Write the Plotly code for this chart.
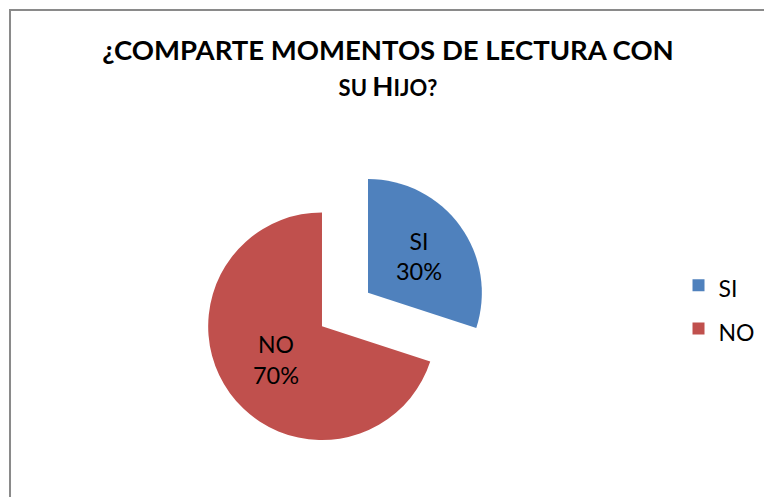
import plotly.graph_objects as go

# data
labels = ["SI", "NO"]
values = [30, 70]
colors = ["#4F81BD", "#C0504D"]
pulls = [0.5, 0]

title_text = ("¿COMPARTE MOMENTOS DE LECTURA CON<br>"
              "<span style='font-size:22px'>SU </span>H"
              "<span style='font-size:22px'>IJO?</span>")

# label text kept at 23px while the legend font is larger (gives taller legend rows)
label_text = [f"<span style='font-size:23px'>{lab}</span>" for lab in labels]

fig = go.Figure()

fig.add_trace(go.Pie(
    labels=label_text,
    values=values,
    marker=dict(colors=colors),
    pull=pulls,
    sort=False,
    direction="clockwise",
    rotation=0,
    textinfo="label+percent",
    textposition="inside",
    insidetextorientation="horizontal",
    textfont=dict(family="Lato, sans-serif", size=23.5, color="#000000"),
    domain=dict(x=[0.1976, 0.6453], y=[0.0, 0.687]),
    hoverinfo="label+percent",
))

fig.update_layout(
    width=764,
    height=497,
    margin=dict(l=0, r=0, t=0, b=0, autoexpand=False),
    paper_bgcolor="white",
    plot_bgcolor="white",
    title=dict(
        text=title_text,
        x=0.5079,
        xanchor="center",
        xref="container",
        y=0.8797,
        yanchor="top",
        yref="container",
        font=dict(family="Lato, sans-serif", size=27.5, color="#000000", weight="bold"),
    ),
    legend=dict(
        x=0.8881,
        xanchor="left",
        y=0.3823,
        yanchor="middle",
        itemwidth=30,
        font=dict(family="Lato, sans-serif", size=31, color="#000000"),
    ),
    # chart-area frame: only left and top edges are visible in the crop
    shapes=[dict(
        type="path",
        xref="paper", yref="paper",
        path="M 0.0131,-0.1 L 0.0131,0.98 L 1.1,0.98",
        line=dict(color="#8a8a8a", width=2),
        layer="below",
    )],
)

# drop the default page margin so the figure fills the window exactly
fig.write_html(
    "out.html",
    config={"displayModeBar": False},
    post_script="document.body.style.margin = '0';",
)
